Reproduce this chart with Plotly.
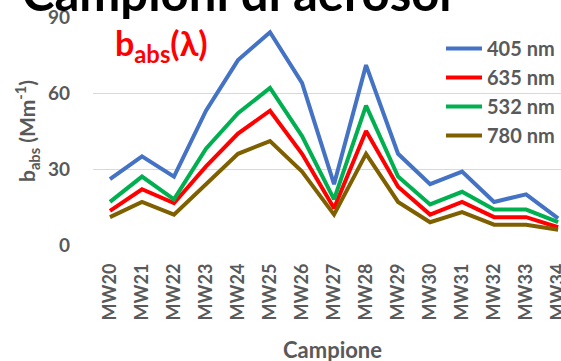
import plotly.graph_objects as go

categories = ["MW20", "MW21", "MW22", "MW23", "MW24", "MW25", "MW26", "MW27",
              "MW28", "MW29", "MW30", "MW31", "MW32", "MW33", "MW34"]
b405 = [26, 35, 27, 53, 73, 84, 64, 24, 71, 36, 24, 29, 17, 20, 10.5]
b635 = [13.5, 22, 16.5, 31, 44, 53, 36, 14.5, 45, 23, 12, 17, 11, 11, 7]
b532 = [17, 27, 18, 38, 52, 62, 43, 18, 55, 27, 16, 21, 14, 14, 9]
b780 = [11, 17, 12, 24, 36, 41, 29, 12, 36, 17, 9, 13, 8, 8, 6]
series_names = ["405 nm", "635 nm", "532 nm", "780 nm"]
series_colors = ["#4472C4", "#FF0000", "#00B050", "#7F6000"]
yticks = [0, 30, 60, 90]

FONT = "Lato"
GRAY = "#595959"
W, H = 561, 361
ML, MR, MT, MB = 93, 0, 17, 116
PW, PH = W - ML - MR, H - MT - MB


def px2x(px):
    return (px - ML) / PW


def py2y(py):
    return (H - MB - py) / PH


fig = go.Figure()
for name, vals, col in zip(series_names, [b405, b635, b532, b780], series_colors):
    fig.add_trace(go.Scatter(
        x=list(range(len(categories))), y=vals, mode="lines", name=name,
        line=dict(color=col, width=4), legendgroup=name,
    ))

fig.update_layout(
    width=W, height=H,
    margin=dict(l=ML, r=MR, t=MT, b=MB, autoexpand=False),
    paper_bgcolor="white", plot_bgcolor="white",
    font=dict(family=FONT, color=GRAY),
    showlegend=True,
    legend=dict(
        x=px2x(441), y=py2y(29),
        xanchor="left", yanchor="top",
        font=dict(family=FONT, size=20, color=GRAY, weight="bold"),
        bgcolor="rgba(0,0,0,0)", tracegroupgap=0, itemwidth=36,
    ),
    xaxis=dict(
        range=[-0.53, 14.09], tickmode="array", automargin=False,
        tickvals=list(range(len(categories))), ticktext=categories,
        tickangle=-90, showgrid=False, zeroline=False, showline=False,
        tickfont=dict(family=FONT, size=18, color=GRAY, weight="bold"),
        ticklabelstandoff=14, ticks="", ticklabeloverflow="allow",
    ),
    yaxis=dict(
        range=[0, 90], tickmode="array", tickvals=yticks, automargin=False,
        showgrid=True, gridcolor="#D9D9D9", gridwidth=1.3,
        zeroline=False, showline=False, ticks="",
        tickfont=dict(family=FONT, size=19, color=GRAY, weight="bold"),
        ticklabelstandoff=22,
        title=dict(text="b<sub>abs</sub> (Mm<sup>-1</sup>)",
                   font=dict(family=FONT, size=21, color=GRAY, weight="bold"),
                   standoff=6),
    ),
)

fig.add_annotation(
    text="Campione", xref="paper", yref="paper",
    x=px2x(332), y=py2y(349), xanchor="center", yanchor="middle", showarrow=False,
    font=dict(family=FONT, size=22, color=GRAY, weight="bold"),
)
fig.add_annotation(
    text="b<sub>abs</sub>(λ)", xref="paper", yref="paper",
    x=px2x(113), y=py2y(45), xanchor="left", yanchor="middle", showarrow=False,
    font=dict(family=FONT, size=34, color="#FF0000", weight="bold"),
)
fig.add_annotation(
    text="Campioni di aerosol", xref="paper", yref="paper",
    x=px2x(20), y=py2y(23), xanchor="left", yanchor="bottom", showarrow=False,
    font=dict(family=FONT, size=49, color="black", weight="bold"),
)

fig.write_html("out.html", post_script="document.body.style.margin='0';",
               config={"displayModeBar": False})
